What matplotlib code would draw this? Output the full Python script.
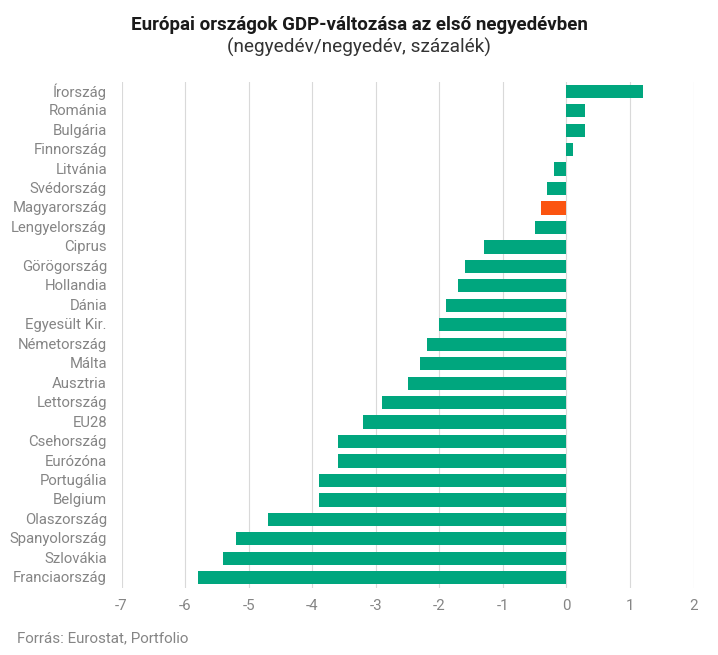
import matplotlib
matplotlib.use('Agg')
import matplotlib.pyplot as plt
from matplotlib.transforms import ScaledTranslation

plt.rcParams['font.family'] = ['Roboto', 'DejaVu Sans']

countries = ['Írország', 'Románia', 'Bulgária', 'Finnország', 'Litvánia', 'Svédország',
             'Magyarország', 'Lengyelország', 'Ciprus', 'Görögország', 'Hollandia', 'Dánia',
             'Egyesült Kir.', 'Németország', 'Málta', 'Ausztria', 'Lettország', 'EU28',
             'Csehország', 'Eurózóna', 'Portugália', 'Belgium', 'Olaszország',
             'Spanyolország', 'Szlovákia', 'Franciaország']
values = [1.2, 0.3, 0.3, 0.1, -0.2, -0.3, -0.4, -0.5, -1.3, -1.6, -1.7, -1.9, -2.0,
          -2.2, -2.3, -2.5, -2.9, -3.2, -3.6, -3.6, -3.9, -3.9, -4.7, -5.2, -5.4, -5.8]
highlight = 'Magyarország'
x_ticks = [-7, -6, -5, -4, -3, -2, -1, 0, 1, 2]

W, H = 718, 655
fig = plt.figure(figsize=(W / 100, H / 100), dpi=100)
ax = fig.add_axes([121.5 / W, 1 - 587.5 / H, (693.5 - 121.5) / W, (587.5 - 81.5) / H])

colors = ['#fb5410' if c == highlight else '#00a67e' for c in countries]
ax.barh(range(len(countries)), values, height=0.68, color=colors, zorder=3)

ax.set_xlim(-7, 2)
ax.set_ylim(len(countries) - 0.5, -0.5)
ax.set_yticks(range(len(countries)))
ax.set_yticklabels(countries, fontsize=10.75, color='#858585')
ax.set_xticks(x_ticks)
ax.set_xticklabels([str(t) for t in x_ticks], fontsize=10.9, color='#858585')
ax.tick_params(axis='both', length=0)
ax.tick_params(axis='x', pad=8)
ax.tick_params(axis='y', pad=10.5)
ax.grid(axis='x', color='#d9d9d9', linewidth=0.8, zorder=0)
for s in ax.spines.values():
    s.set_visible(False)

# labels sit about a pixel higher than the bar centres
up = ScaledTranslation(0, 1 / 100, fig.dpi_scale_trans)
for lab in ax.get_yticklabels():
    lab.set_transform(lab.get_transform() + up)

fig.text(359 / W, 1 - 25 / H, 'Európai országok GDP-változása az első negyedévben', ha='center', va='center',
         fontsize=13.5, fontweight='bold', color='#1a1a1a')
fig.text(359 / W, 1 - 47.5 / H, '(negyedév/negyedév, százalék)', ha='center', va='center',
         fontsize=13.65, color='#333333')
fig.text(17 / W, 1 - 638 / H, 'Forrás: Eurostat, Portfolio', ha='left', va='center',
         fontsize=10.9, color='#858585')

fig.savefig('out.png', dpi=100)
